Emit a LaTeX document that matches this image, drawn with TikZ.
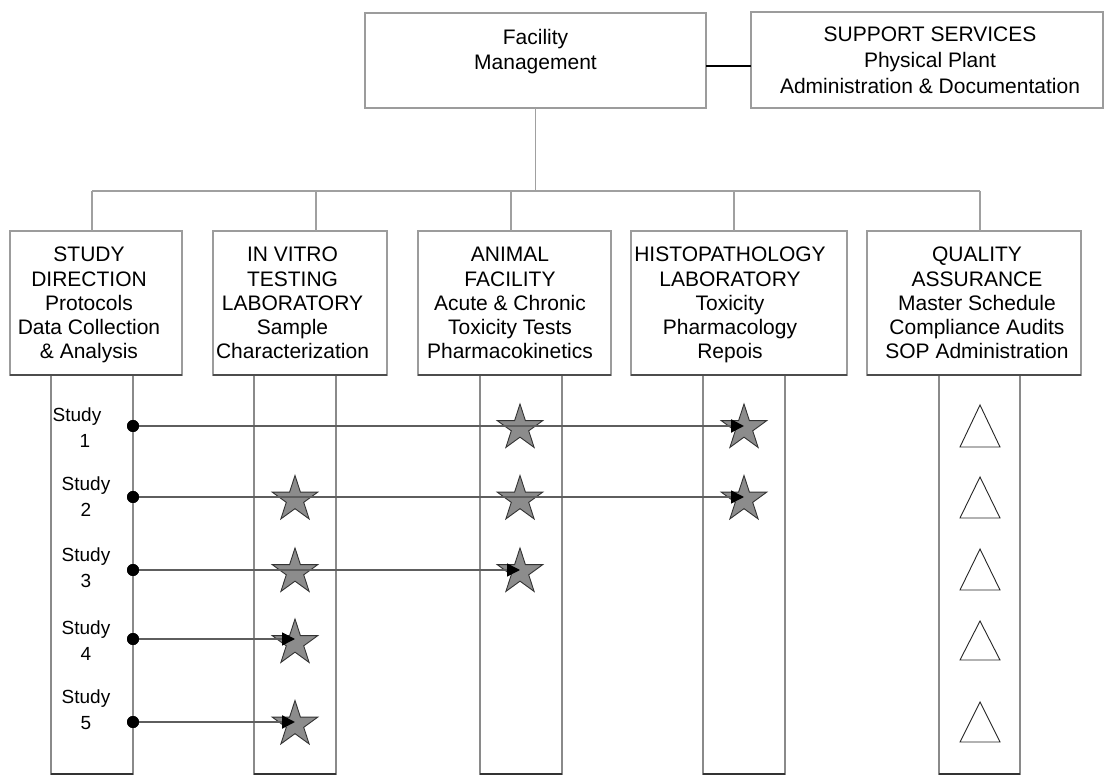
\documentclass[tikz,border=0pt]{standalone}
\usepackage{fontspec}
\setmainfont{Liberation Sans}
\usetikzlibrary{shapes.geometric,arrows.meta}
\definecolor{boxgray}{HTML}{9C9C9C}
\definecolor{busgray}{HTML}{A0A0A0}
\definecolor{colgray}{HTML}{8A8A8A}
\definecolor{stargray}{HTML}{8C8C8C}
\definecolor{flowgray}{HTML}{5E5E5E}
\begin{document}
\begin{tikzpicture}[x=1pt,y=-1pt,
  box/.style={draw=boxgray, line width=1.3pt, rectangle, inner sep=0pt, outer sep=0pt},
  boxbottom/.style={draw=black!70, line width=1.5pt},
  lbl/.style={align=center, font=\fontsize{21}{24.3}\selectfont, inner sep=0pt, anchor=base},
  slbl/.style={align=center, font=\fontsize{19}{26}\selectfont, inner sep=0pt, anchor=base},
  bus/.style={draw=busgray, line width=1.3pt},
  col/.style={draw=colgray, line width=1.1pt, rectangle, inner sep=0pt, outer sep=0pt},
  colbottom/.style={draw=black!80, line width=2pt},
  starnode/.style={star, star points=5, star point ratio=2.618, minimum size=48pt, inner sep=0pt, fill=stargray, draw=black!80, line width=0.9pt},
  tri/.style={draw=black!85, line width=0.9pt, fill=white},
  flow/.style={draw=flowgray, line width=1.6pt, -{Triangle[length=13pt,width=13pt,color=black]}},
  flowthick/.style={flow, line width=2.2pt},
  studydot/.style={circle, fill=black, draw=none, minimum size=12pt, inner sep=0pt},
  ]
\useasboundingbox[fill=white] (0,0) rectangle (1104,775);

% ---- top level ----
\node[box, minimum width=341pt, minimum height=95pt] (fm) at (535.5,60.5) {};
\node[box, minimum width=352pt, minimum height=96pt] (ss) at (927,60) {};
\node[lbl, font=\fontsize{21}{25}\selectfont] (fmt) at (535.5,70) {Facility\\Management};
\node[lbl, font=\fontsize{21}{26}\selectfont] (sst) at (930,94) {SUPPORT SERVICES\\Physical Plant\\Administration \& Documentation};
\draw[black, line width=2pt] (fm.east |- 0,66) -- (ss.west |- 0,66);

% ---- bus ----
\coordinate (b1) at (92,191);
\coordinate (b2) at (316,191);
\coordinate (b3) at (511,191);
\coordinate (b4) at (734,191);
\coordinate (b5) at (980,191);
\draw[bus] (fm.south) -- (fm.south |- b1);
\draw[bus] (b1) -- (b5);

% ---- columns ----
\node[col, minimum width=82pt, minimum height=399pt] (c1) at (92,574.5) {};
\node[col, minimum width=82pt, minimum height=399pt] (c2) at (295,574.5) {};
\node[col, minimum width=82pt, minimum height=399pt] (c3) at (521,574.5) {};
\node[col, minimum width=82pt, minimum height=399pt] (c4) at (744,574.5) {};
\node[col, minimum width=81pt, minimum height=399pt] (c5) at (979.5,574.5) {};
\foreach \c in {c1,c2,c3,c4,c5}{\draw[colbottom] (\c.south west) -- (\c.south east);}

% ---- department boxes ----
\node[box, fill=white, minimum width=172pt, minimum height=144pt] (sd) at (96,303) {};
\node[box, fill=white, minimum width=174pt, minimum height=144pt] (iv) at (300,303) {};
\node[box, fill=white, minimum width=193pt, minimum height=144pt] (af) at (514.5,303) {};
\node[box, fill=white, minimum width=216pt, minimum height=144pt] (hl) at (739,303) {};
\node[box, fill=white, minimum width=214pt, minimum height=144pt] (qa) at (974,303) {};
\foreach \b in {sd,iv,af,hl,qa}{\draw[boxbottom] (\b.south west) -- (\b.south east);}

\draw[bus] (b1) -- (b1 |- sd.north);
\draw[bus] (b2) -- (b2 |- iv.north);
\draw[bus] (b3) -- (b3 |- af.north);
\draw[bus] (b4) -- (b4 |- hl.north);
\draw[bus] (b5) -- (b5 |- qa.north);

\node[lbl] (sdt) at (89,359) {STUDY\\DIRECTION\\Protocols\\Data Collection\\\& Analysis};
\node[lbl] (ivt) at (292.5,359) {IN VITRO\\TESTING\\LABORATORY\\Sample\\Characterization};
\node[lbl] (aft) at (510,359) {ANIMAL\\FACILITY\\Acute \& Chronic\\Toxicity Tests\\Pharmacokinetics};
\node[lbl] (hlt) at (730,359) {HISTOPATHOLOGY\\LABORATORY\\Toxicity\\Pharmacology\\Repois};
\node[lbl] (qat) at (977,359) {QUALITY\\ASSURANCE\\Master Schedule\\Compliance Audits\\SOP Administration};

% ---- study labels ----
\node[slbl] (s1) at (85,448) {Study\hspace*{16pt}\\1};
\node[slbl] (s2) at (86,517) {Study\\2};
\node[slbl] (s3) at (86,587) {Study\\3};
\node[slbl] (s4) at (86,660) {Study\\4};
\node[slbl] (s5) at (86,729) {Study\\5};

% ---- stars ----
\node[starnode] (a1) at (520,428) {};
\node[starnode] (h1) at (744,428) {};
\node[starnode] (v2) at (295,499.5) {};
\node[starnode] (a2) at (520,499.5) {};
\node[starnode] (h2) at (744,499.5) {};
\node[starnode] (v3) at (295,572) {};
\node[starnode] (a3) at (520,572) {};
\node[starnode] (v4) at (295,643) {};
\node[starnode] (v5) at (295,724.5) {};

% ---- triangles ----
\foreach \t/\bo in {405/447,477/518,549/590,621/660,702/742}{
  \draw[tri] (960,\bo) -- (980,\t) -- (1000,\bo) -- cycle;}

% ---- dots and flows ----
\node[studydot] (d1) at (133,426) {};
\node[studydot] (d2) at (133,497) {};
\node[studydot] (d3) at (133,570) {};
\node[studydot] (d4) at (133,639) {};
\node[studydot] (d5) at (133,722) {};
\draw[flowthick] (d1.center) -- (d1 -| h1.center);
\draw[flow] (d2.center) -- (d2 -| h2.center);
\draw[flow] (d3.center) -- (d3 -| a3.center);
\draw[flow] (d4.center) -- (d4 -| v4.center);
\draw[flowthick] (d5.center) -- (d5 -| v5.center);
\fill[black] (d1) circle[radius=6pt] (d2) circle[radius=6pt] (d3) circle[radius=6pt] (d4) circle[radius=6pt] (d5) circle[radius=6pt];
\end{tikzpicture}
\end{document}
